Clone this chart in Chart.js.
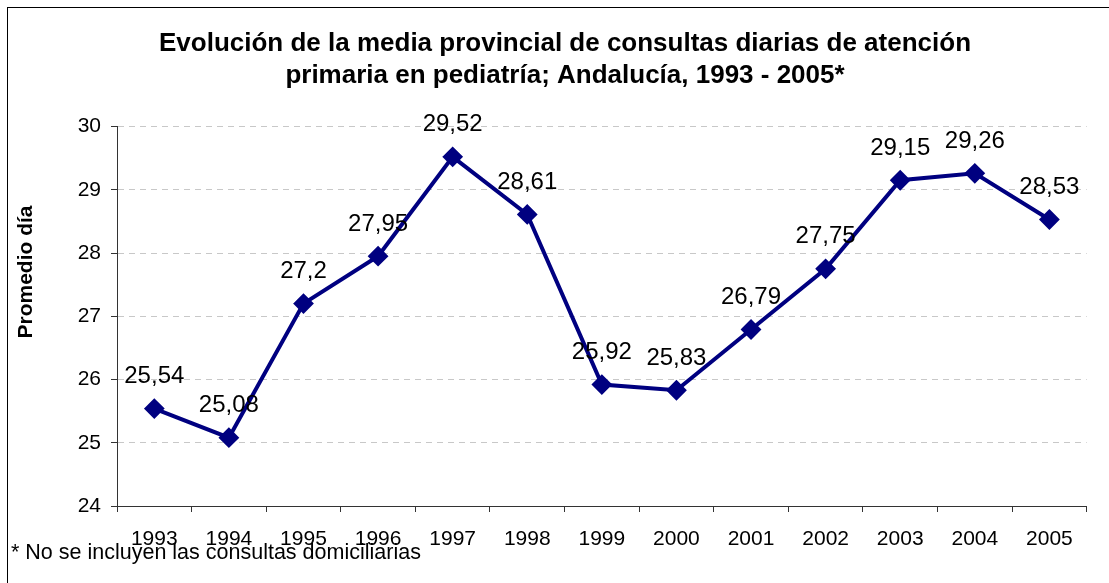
<!DOCTYPE html>
<html lang="es">
<head>
<meta charset="UTF-8">
<title>Consultas diarias pediatría</title>
<script src="https://cdn.jsdelivr.net/npm/chart.js@4.4.1/dist/chart.umd.min.js"></script>
<style>
  html, body { margin: 0; padding: 0; background: #fff; }
  #wrap { width: 1109px; height: 583px; }
</style>
</head>
<body>
<div id="wrap"><canvas id="chart" width="1109" height="583"></canvas></div>
<script>
// datos
const years = ["1993", "1994", "1995", "1996", "1997", "1998", "1999", "2000", "2001", "2002", "2003", "2004", "2005"];
const promedio = [25.54, 25.08, 27.2, 27.95, 29.52, 28.61, 25.92, 25.83, 26.79, 27.75, 29.15, 29.26, 28.53];
const yTicks = [24, 25, 26, 27, 28, 29, 30];

const titleLines = [
  "Evolución de la media provincial de consultas diarias de atención",
  "primaria en pediatría; Andalucía, 1993 - 2005*"
];
const yTitle = "Promedio día";
const footnote = "* No se incluyen las consultas domiciliarias";

const FONT = "Arial, 'Liberation Sans', sans-serif";

// textos, marco y etiquetas de datos
const decorPlugin = {
  id: "decor",
  beforeDraw(chart) {
    const ctx = chart.ctx;
    ctx.save();
    ctx.fillStyle = "#fff";
    ctx.fillRect(0, 0, chart.width, chart.height);
    ctx.strokeStyle = "#000";
    ctx.lineWidth = 1;
    ctx.strokeRect(7.5, 7.5, chart.width + 20, chart.height + 20);
    ctx.restore();
  },
  afterDraw(chart) {
    const ctx = chart.ctx;
    ctx.save();
    ctx.fillStyle = "#000";
    ctx.textAlign = "center";
    ctx.textBaseline = "middle";
    ctx.font = "bold 26px " + FONT;
    ctx.fillText(titleLines[0], 565, 44);
    ctx.fillText(titleLines[1], 565, 76);

    ctx.save();
    ctx.translate(26, 272);
    ctx.rotate(-Math.PI / 2);
    ctx.font = "bold 21px " + FONT;
    ctx.fillText(yTitle, 0, 0);
    ctx.restore();

    ctx.textAlign = "left";
    ctx.font = "21.5px " + FONT;
    ctx.fillText(footnote, 11, 553);

    // etiquetas de valores
    ctx.textAlign = "center";
    ctx.font = "24px " + FONT;
    const meta = chart.getDatasetMeta(0);
    meta.data.forEach((pt, i) => {
      const txt = String(promedio[i]).replace(".", ",");
      ctx.fillText(txt, pt.x, pt.y - 32);
    });
    ctx.restore();
  }
};

new Chart(document.getElementById("chart"), {
  type: "line",
  data: {
    labels: years,
    datasets: [{
      data: promedio,
      borderColor: "#000080",
      backgroundColor: "#000080",
      borderWidth: 4,
      tension: 0,
      pointStyle: "rectRot",
      pointRadius: 9,
      pointBorderWidth: 2,
      pointBackgroundColor: "#000080",
      pointBorderColor: "#000080"
    }]
  },
  options: {
    responsive: false,
    animation: false,
    layout: { padding: { left: 0, top: 126.5, right: 22.3, bottom: 0 } },
    plugins: {
      legend: { display: false },
      title: { display: false },
      tooltip: { enabled: false }
    },
    scales: {
      x: {
        offset: true,
        grid: {
          offset: true,
          drawOnChartArea: false,
          drawTicks: true,
          tickLength: 6,
          tickColor: "#333",
          tickWidth: 1
        },
        border: { color: "#333", width: 1 },
        ticks: {
          color: "#000",
          font: { family: FONT, size: 21 },
          padding: 15,
          maxRotation: 0
        },
        afterFit(scale) { scale.height = 77; }
      },
      y: {
        min: 24,
        max: 30,
        afterBuildTicks(scale) { scale.ticks = yTicks.map(v => ({ value: v })); },
        grid: {
          color: (c) => c.tick && c.tick.value === 24 ? "rgba(0,0,0,0)" : "#c8c8c8",
          tickColor: "#333",
          tickBorderDash: [],
          tickLength: 6,
          tickWidth: 1
        },
        border: { color: "#333", width: 1, dash: [6, 5] },
        ticks: {
          color: "#000",
          font: { family: FONT, size: 21 },
          padding: 10
        },
        afterFit(scale) { scale.width = 117; }
      }
    }
  },
  plugins: [decorPlugin]
});
</script>
</body>
</html>
